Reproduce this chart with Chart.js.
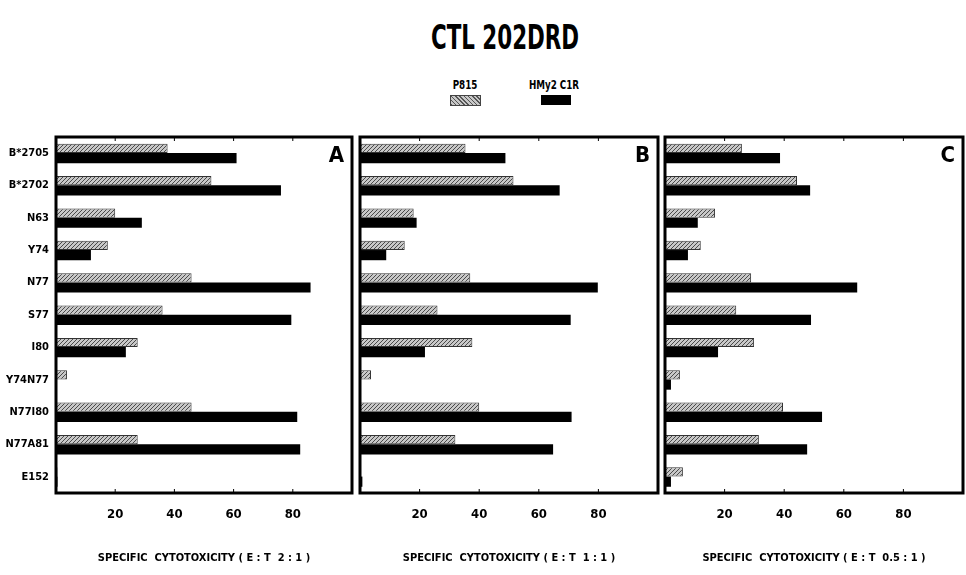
<!DOCTYPE html>
<html>
<head>
<meta charset="utf-8">
<script src="https://cdn.jsdelivr.net/npm/chart.js@4"></script>
<style>
  body { margin: 0; background: #fff; width: 966px; height: 575px; position: relative; overflow: hidden;
         font-family: "DejaVu Sans Condensed", "DejaVu Sans", sans-serif; font-weight: bold; }
  .panel { position: absolute; top: 128px; height: 447px; }
  #title { position: absolute; left: 0; width: 1010px; top: 17px; text-align: center; font-size: 34px;
           transform: scaleX(0.7); transform-origin: 505px 0; }
  .leg { position: absolute; top: 77px; font-size: 13px; text-align: center; white-space: nowrap;
         transform: scaleX(0.75); }
  .sw { position: absolute; top: 95px; height: 10px; width: 30px; }
</style>
</head>
<body>
<div id="title">CTL 202DRD</div>
<div class="leg" style="left:440px;width:50px">P815</div>
<div class="leg" style="left:516px;width:76px">HMy2 C1R</div>
<div class="sw" style="left:450px;border:1px solid #444;width:29px;height:9px;background:repeating-linear-gradient(45deg,#555 0 1px,#c8c8c8 1px 3px)"></div>
<div class="sw" style="left:541px;background:#000"></div>

<div class="panel" style="left:0;width:360px"><canvas id="pA"></canvas></div>
<div class="panel" style="left:355px;width:310px"><canvas id="pB"></canvas></div>
<div class="panel" style="left:660px;width:306px"><canvas id="pC"></canvas></div>

<script>
const categories = ["B*2705", "B*2702", "N63", "Y74", "N77", "S77", "I80", "Y74N77", "N77I80", "N77A81", "E152"];
const xTicks = [20, 40, 60, 80];

// E:T 2:1
const p815A = [37.7, 52.5, 20, 17.5, 45.8, 36, 27.6, 3.7, 45.8, 27.6, 0.5];
const hmy2A = [61, 76, 29, 11.8, 86, 79.5, 23.6, 0, 81.5, 82.5, 0.5];
// E:T 1:1
const p815B = [35.4, 51.5, 18, 15, 37, 26, 37.7, 3.7, 40, 32, 0];
const hmy2B = [48.8, 67, 19, 8.8, 79.8, 70.7, 21.8, 0, 71, 64.8, 0.8];
// E:T 0.5:1
const p815C = [25.8, 44.3, 16.8, 12, 28.9, 23.9, 29.9, 5, 39.6, 31.5, 6];
const hmy2C = [38.6, 48.7, 11, 7.7, 64.5, 49, 17.8, 2, 52.7, 47.7, 2];

const FONT = "'DejaVu Sans Condensed', 'DejaVu Sans', sans-serif";

function hatch() {
  const c = document.createElement('canvas');
  c.width = 4; c.height = 4;
  const g = c.getContext('2d');
  g.fillStyle = '#c8c8c8';
  g.fillRect(0, 0, 4, 4);
  g.fillStyle = '#4a4a4a';
  for (let i = 0; i < 4; i++) g.fillRect(i, 3 - i, 1, 1);
  return g.createPattern(c, 'repeat');
}

const frame = {
  id: 'frame',
  afterDraw(chart, args, opts) {
    const { ctx, chartArea: a, scales } = chart;
    ctx.save();
    ctx.strokeStyle = '#000';
    ctx.lineWidth = 3;
    ctx.strokeRect(a.left, a.top, a.right - a.left, a.bottom - a.top);
    ctx.lineWidth = 1;
    xTicks.forEach(v => {
      const x = scales.x.getPixelForValue(v);
      ctx.beginPath();
      ctx.moveTo(x, a.bottom); ctx.lineTo(x, a.bottom - 4);
      ctx.moveTo(x, a.top); ctx.lineTo(x, a.top + 4);
      ctx.stroke();
    });
    ctx.fillStyle = '#000';
    ctx.font = 'bold 22px ' + FONT;
    ctx.textAlign = 'right';
    ctx.textBaseline = 'top';
    ctx.fillText(opts.letter, a.right - 8, a.top + 8);
    ctx.restore();
  }
};

function makePanel(id, letter, p815, hmy2, ratio, showLabels, leftW, padRight) {
  new Chart(document.getElementById(id), {
    type: 'bar',
    data: {
      labels: categories,
      datasets: [
        { label: 'P815', data: p815, backgroundColor: hatch(), borderColor: '#333', borderWidth: 1,
          categoryPercentage: 0.6, barPercentage: 0.95 },
        { label: 'HMy2 C1R', data: hmy2, backgroundColor: '#000',
          categoryPercentage: 0.6, barPercentage: 1.05 }
      ]
    },
    options: {
      indexAxis: 'y',
      responsive: true,
      maintainAspectRatio: false,
      animation: false,
      layout: { padding: { top: 9, right: padRight, left: 0, bottom: 0 } },
      plugins: {
        legend: { display: false },
        tooltip: { enabled: false },
        frame: { letter: letter }
      },
      scales: {
        x: {
          min: 0, max: 100,
          afterBuildTicks: s => { s.ticks = xTicks.map(v => ({ value: v })); },
          grid: { display: false, drawTicks: false },
          border: { display: false },
          ticks: { color: '#000', padding: 14, font: { family: FONT, size: 13, weight: 'bold' } },
          title: {
            display: true,
            text: 'SPECIFIC  CYTOTOXICITY ( E : T  ' + ratio + ' )',
            color: '#000',
            padding: { top: 4, bottom: 10 },
            font: { family: FONT, size: 11, weight: 'bold' }
          },
          afterFit: s => { s.height = 82; s.paddingLeft = 0; s.paddingRight = 0; }
        },
        y: {
          grid: { display: false, drawTicks: false },
          border: { display: false },
          ticks: { display: showLabels, color: '#000', padding: 7, font: { family: FONT, size: 11, weight: 'bold' } },
          afterFit: s => { s.width = leftW; s.paddingTop = 0; s.paddingBottom = 0; }
        }
      }
    },
    plugins: [frame]
  });
}

makePanel('pA', 'A', p815A, hmy2A, '2 : 1', true, 56, 8);
makePanel('pB', 'B', p815B, hmy2B, '1 : 1', false, 5, 7);
makePanel('pC', 'C', p815C, hmy2C, '0.5 : 1', false, 5, 3);
</script>
</body>
</html>
